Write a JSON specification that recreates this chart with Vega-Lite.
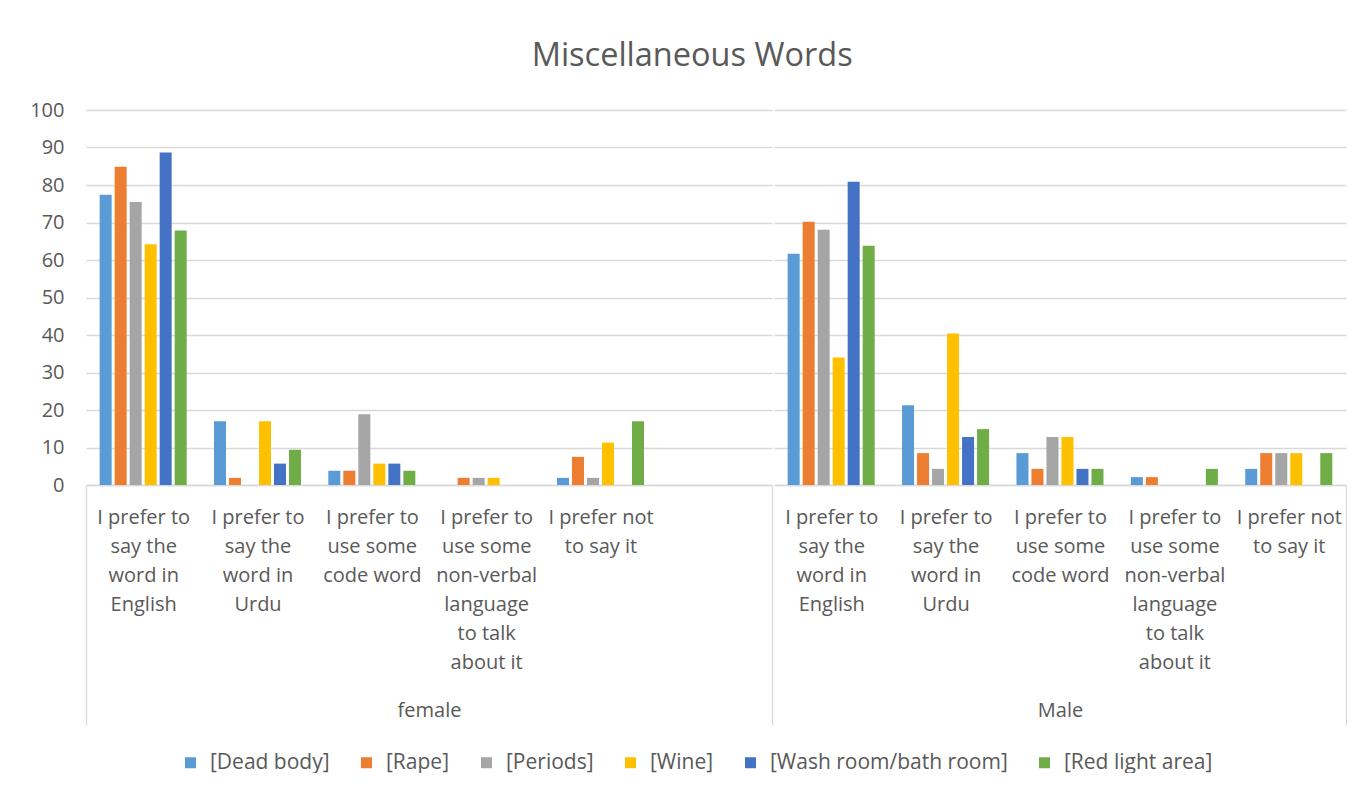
{
  "$schema": "https://vega.github.io/schema/vega-lite/v6.json",
  "autosize": {"type": "pad"},
  "padding": {"left": 29, "top": 39, "right": 0, "bottom": 0},
  "background": "white",
  "title": {"text": "Miscellaneous Words", "fontSize": 32.5, "font": "Open Sans", "fontWeight": "normal", "color": "#595959", "anchor": "middle", "frame": "bounds", "baseline": "alphabetic", "offset": 2, "dx": 4},
  "data": {"values": [
    {"gender": "female", "answer": "I prefer to say the word in English", "word": "[Dead body]", "pct": 77.4},
    {"gender": "female", "answer": "I prefer to say the word in English", "word": "[Rape]", "pct": 84.9},
    {"gender": "female", "answer": "I prefer to say the word in English", "word": "[Periods]", "pct": 75.5},
    {"gender": "female", "answer": "I prefer to say the word in English", "word": "[Wine]", "pct": 64.2},
    {"gender": "female", "answer": "I prefer to say the word in English", "word": "[Wash room/bath room]", "pct": 88.7},
    {"gender": "female", "answer": "I prefer to say the word in English", "word": "[Red light area]", "pct": 67.9},
    {"gender": "female", "answer": "I prefer to say the word in Urdu", "word": "[Dead body]", "pct": 17.0},
    {"gender": "female", "answer": "I prefer to say the word in Urdu", "word": "[Rape]", "pct": 1.9},
    {"gender": "female", "answer": "I prefer to say the word in Urdu", "word": "[Periods]", "pct": 0},
    {"gender": "female", "answer": "I prefer to say the word in Urdu", "word": "[Wine]", "pct": 17.0},
    {"gender": "female", "answer": "I prefer to say the word in Urdu", "word": "[Wash room/bath room]", "pct": 5.7},
    {"gender": "female", "answer": "I prefer to say the word in Urdu", "word": "[Red light area]", "pct": 9.4},
    {"gender": "female", "answer": "I prefer to use some code word", "word": "[Dead body]", "pct": 3.8},
    {"gender": "female", "answer": "I prefer to use some code word", "word": "[Rape]", "pct": 3.8},
    {"gender": "female", "answer": "I prefer to use some code word", "word": "[Periods]", "pct": 18.9},
    {"gender": "female", "answer": "I prefer to use some code word", "word": "[Wine]", "pct": 5.7},
    {"gender": "female", "answer": "I prefer to use some code word", "word": "[Wash room/bath room]", "pct": 5.7},
    {"gender": "female", "answer": "I prefer to use some code word", "word": "[Red light area]", "pct": 3.8},
    {"gender": "female", "answer": "I prefer to use some non-verbal language to talk about it", "word": "[Dead body]", "pct": 0},
    {"gender": "female", "answer": "I prefer to use some non-verbal language to talk about it", "word": "[Rape]", "pct": 1.9},
    {"gender": "female", "answer": "I prefer to use some non-verbal language to talk about it", "word": "[Periods]", "pct": 1.9},
    {"gender": "female", "answer": "I prefer to use some non-verbal language to talk about it", "word": "[Wine]", "pct": 1.9},
    {"gender": "female", "answer": "I prefer to use some non-verbal language to talk about it", "word": "[Wash room/bath room]", "pct": 0},
    {"gender": "female", "answer": "I prefer to use some non-verbal language to talk about it", "word": "[Red light area]", "pct": 0},
    {"gender": "female", "answer": "I prefer not to say it", "word": "[Dead body]", "pct": 1.9},
    {"gender": "female", "answer": "I prefer not to say it", "word": "[Rape]", "pct": 7.5},
    {"gender": "female", "answer": "I prefer not to say it", "word": "[Periods]", "pct": 1.9},
    {"gender": "female", "answer": "I prefer not to say it", "word": "[Wine]", "pct": 11.3},
    {"gender": "female", "answer": "I prefer not to say it", "word": "[Wash room/bath room]", "pct": 0},
    {"gender": "female", "answer": "I prefer not to say it", "word": "[Red light area]", "pct": 17.0},
    {"gender": "Male", "answer": "I prefer to say the word in English", "word": "[Dead body]", "pct": 61.7},
    {"gender": "Male", "answer": "I prefer to say the word in English", "word": "[Rape]", "pct": 70.2},
    {"gender": "Male", "answer": "I prefer to say the word in English", "word": "[Periods]", "pct": 68.1},
    {"gender": "Male", "answer": "I prefer to say the word in English", "word": "[Wine]", "pct": 34.0},
    {"gender": "Male", "answer": "I prefer to say the word in English", "word": "[Wash room/bath room]", "pct": 80.9},
    {"gender": "Male", "answer": "I prefer to say the word in English", "word": "[Red light area]", "pct": 63.8},
    {"gender": "Male", "answer": "I prefer to say the word in Urdu", "word": "[Dead body]", "pct": 21.3},
    {"gender": "Male", "answer": "I prefer to say the word in Urdu", "word": "[Rape]", "pct": 8.5},
    {"gender": "Male", "answer": "I prefer to say the word in Urdu", "word": "[Periods]", "pct": 4.3},
    {"gender": "Male", "answer": "I prefer to say the word in Urdu", "word": "[Wine]", "pct": 40.4},
    {"gender": "Male", "answer": "I prefer to say the word in Urdu", "word": "[Wash room/bath room]", "pct": 12.8},
    {"gender": "Male", "answer": "I prefer to say the word in Urdu", "word": "[Red light area]", "pct": 14.9},
    {"gender": "Male", "answer": "I prefer to use some code word", "word": "[Dead body]", "pct": 8.5},
    {"gender": "Male", "answer": "I prefer to use some code word", "word": "[Rape]", "pct": 4.3},
    {"gender": "Male", "answer": "I prefer to use some code word", "word": "[Periods]", "pct": 12.8},
    {"gender": "Male", "answer": "I prefer to use some code word", "word": "[Wine]", "pct": 12.8},
    {"gender": "Male", "answer": "I prefer to use some code word", "word": "[Wash room/bath room]", "pct": 4.3},
    {"gender": "Male", "answer": "I prefer to use some code word", "word": "[Red light area]", "pct": 4.3},
    {"gender": "Male", "answer": "I prefer to use some non-verbal language to talk about it", "word": "[Dead body]", "pct": 2.1},
    {"gender": "Male", "answer": "I prefer to use some non-verbal language to talk about it", "word": "[Rape]", "pct": 2.1},
    {"gender": "Male", "answer": "I prefer to use some non-verbal language to talk about it", "word": "[Periods]", "pct": 0},
    {"gender": "Male", "answer": "I prefer to use some non-verbal language to talk about it", "word": "[Wine]", "pct": 0},
    {"gender": "Male", "answer": "I prefer to use some non-verbal language to talk about it", "word": "[Wash room/bath room]", "pct": 0},
    {"gender": "Male", "answer": "I prefer to use some non-verbal language to talk about it", "word": "[Red light area]", "pct": 4.3},
    {"gender": "Male", "answer": "I prefer not to say it", "word": "[Dead body]", "pct": 4.3},
    {"gender": "Male", "answer": "I prefer not to say it", "word": "[Rape]", "pct": 8.5},
    {"gender": "Male", "answer": "I prefer not to say it", "word": "[Periods]", "pct": 8.5},
    {"gender": "Male", "answer": "I prefer not to say it", "word": "[Wine]", "pct": 8.5},
    {"gender": "Male", "answer": "I prefer not to say it", "word": "[Wash room/bath room]", "pct": 0},
    {"gender": "Male", "answer": "I prefer not to say it", "word": "[Red light area]", "pct": 8.5}
  ]},
  "spacing": 0,
  "hconcat": [
    {
      "width": 686, "height": 375,
      "transform": [{"filter": "datum.gender == 'female'"}],
      "mark": {"type": "bar"},
      "encoding": {
        "x": {"field": "answer", "type": "nominal",
          "scale": {"domain": ["I prefer to say the word in English", "I prefer to say the word in Urdu", "I prefer to use some code word", "I prefer to use some non-verbal language to talk about it", "I prefer not to say it", " "], "paddingInner": 0, "paddingOuter": 0},
          "axis": {"title": "female", "titleY": 225, "titleBaseline": "middle", "grid": false,
            "labelAngle": 0, "labelOverlap": false, "labelLimit": 0, "labelPadding": -218, "labelBaseline": "top", "labelLineHeight": 29,
            "labelExpr": "datum.value == 'I prefer to say the word in English' ? ['I prefer to','say the','word in','English'] : datum.value == 'I prefer to say the word in Urdu' ? ['I prefer to','say the','word in','Urdu'] : datum.value == 'I prefer to use some code word' ? ['I prefer to','use some','code word'] : datum.value == 'I prefer to use some non-verbal language to talk about it' ? ['I prefer to','use some','non-verbal','language','to talk','about it'] : datum.value == 'I prefer not to say it' ? ['I prefer not','to say it'] : ''",
            "ticks": true, "tickBand": "extent", "tickSize": 240, "tickWidth": 1.3,
            "tickColor": {"condition": {"test": "datum.index < 0 || datum.index == 1", "value": "#d9d9d9"}, "value": "transparent"},
            "domain": true, "domainWidth": 1.3}
        },
        "xOffset": {"field": "word", "type": "nominal", "scale": {"domain": ["[Dead body]", "[Rape]", "[Periods]", "[Wine]", "[Wash room/bath room]", "[Red light area]"], "paddingInner": 0.2, "paddingOuter": 0.91}},
        "y": {"field": "pct", "type": "quantitative", "scale": {"domain": [0, 100]},
          "axis": {"values": [0, 10, 20, 30, 40, 50, 60, 70, 80, 90, 100], "title": null, "ticks": false, "domain": false, "labelPadding": 22, "grid": true}},
        "color": {"field": "word", "type": "nominal",
          "scale": {"domain": ["[Dead body]", "[Rape]", "[Periods]", "[Wine]", "[Wash room/bath room]", "[Red light area]"], "range": ["#5B9BD5", "#ED7D31", "#A5A5A5", "#FFC000", "#4472C4", "#70AD47"]},
          "legend": {"title": null}}
      }
    },
    {
      "width": 572, "height": 375,
      "transform": [{"filter": "datum.gender == 'Male'"}],
      "mark": {"type": "bar"},
      "encoding": {
        "x": {"field": "answer", "type": "nominal",
          "scale": {"domain": ["I prefer to say the word in English", "I prefer to say the word in Urdu", "I prefer to use some code word", "I prefer to use some non-verbal language to talk about it", "I prefer not to say it"], "paddingInner": 0, "paddingOuter": 0},
          "axis": {"title": "Male", "titleY": 225, "titleBaseline": "middle", "grid": false,
            "labelAngle": 0, "labelOverlap": false, "labelLimit": 0, "labelPadding": -218, "labelBaseline": "top", "labelLineHeight": 29,
            "labelExpr": "datum.value == 'I prefer to say the word in English' ? ['I prefer to','say the','word in','English'] : datum.value == 'I prefer to say the word in Urdu' ? ['I prefer to','say the','word in','Urdu'] : datum.value == 'I prefer to use some code word' ? ['I prefer to','use some','code word'] : datum.value == 'I prefer to use some non-verbal language to talk about it' ? ['I prefer to','use some','non-verbal','language','to talk','about it'] : datum.value == 'I prefer not to say it' ? ['I prefer not','to say it'] : ''",
            "ticks": true, "tickBand": "extent", "tickSize": 240, "tickWidth": 1.3,
            "tickColor": {"condition": {"test": "datum.index == 1", "value": "#d9d9d9"}, "value": "transparent"},
            "domain": true, "domainWidth": 1.3}
        },
        "xOffset": {"field": "word", "type": "nominal", "scale": {"domain": ["[Dead body]", "[Rape]", "[Periods]", "[Wine]", "[Wash room/bath room]", "[Red light area]"], "paddingInner": 0.2, "paddingOuter": 0.91}},
        "y": {"field": "pct", "type": "quantitative", "scale": {"domain": [0, 100]},
          "axis": {"values": [0, 10, 20, 30, 40, 50, 60, 70, 80, 90, 100], "title": null, "ticks": false, "domain": false, "labels": false, "grid": true}},
        "color": {"field": "word", "type": "nominal",
          "scale": {"domain": ["[Dead body]", "[Rape]", "[Periods]", "[Wine]", "[Wash room/bath room]", "[Red light area]"], "range": ["#5B9BD5", "#ED7D31", "#A5A5A5", "#FFC000", "#4472C4", "#70AD47"]},
          "legend": {"title": null}}
      }
    }
  ],
  "resolve": {"scale": {"color": "shared"}},
  "config": {
    "font": "Open Sans",
    "view": {"stroke": null},
    "axis": {"labelColor": "#595959", "labelFontSize": 20, "labelFont": "Open Sans", "titleColor": "#595959", "titleFont": "Open Sans", "titleFontSize": 20, "titleFontWeight": "normal", "gridColor": "#d9d9d9", "gridWidth": 1.3, "gridCap": "butt", "domainColor": "#d9d9d9"},
    "legend": {"orient": "none", "direction": "horizontal", "legendX": 94, "legendY": 642, "symbolType": "square", "symbolSize": 121, "symbolStrokeWidth": 0, "labelFontSize": 21, "labelFont": "Open Sans", "labelColor": "#595959", "labelOffset": 9, "columnPadding": 26, "labelLimit": 0}
  }
}
